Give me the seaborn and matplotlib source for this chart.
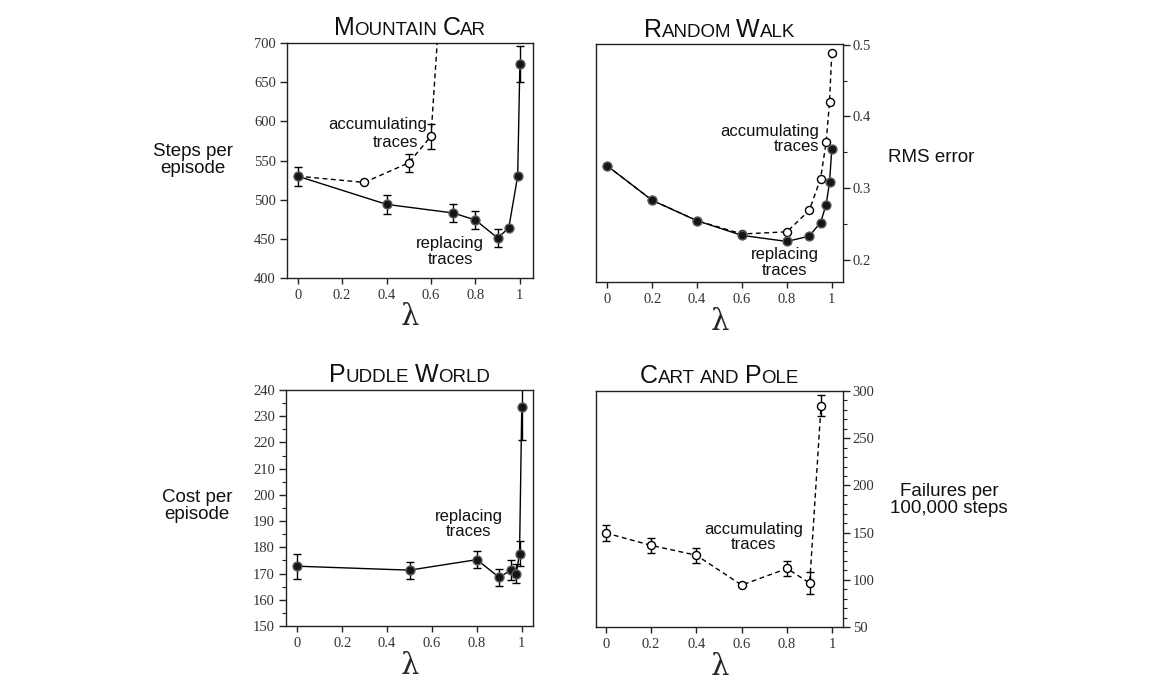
import matplotlib
matplotlib.use("Agg")
import matplotlib.pyplot as plt
import numpy as np
import seaborn as sns
from matplotlib.ticker import MultipleLocator

nan = np.nan

# Mountain Car
mc_rep_lam = [0, 0.4, 0.7, 0.8, 0.9, 0.95, 0.99, 1.0]
mc_rep_steps = [530, 494, 483, 474, 451, 464, 530, 673]
mc_rep_err = [12, 12, 11, 11, 11, nan, nan, 23]
mc_acc_lam = [0, 0.3, 0.5, 0.6, 0.7]
mc_acc_steps = [530, 522, 547, 581, 1010]
mc_acc_err = [nan, nan, 11.5, 16, nan]

# Random Walk
rw_lam = [0, 0.2, 0.4, 0.6, 0.8, 0.9, 0.95, 0.975, 0.99, 1.0]
rw_rep_rms = [0.331, 0.283, 0.2545, 0.234, 0.2256, 0.233, 0.252, 0.277, 0.308, 0.354]
rw_acc_rms = [0.331, 0.283, 0.2545, 0.236, 0.239, 0.269, 0.313, 0.364, 0.420, 0.489]

# Puddle World
pw_rep_lam = [0, 0.5, 0.8, 0.9, 0.95, 0.975, 0.99, 1.0]
pw_rep_cost = [172.8, 171.3, 175.3, 168.5, 171.3, 170.0, 177.5, 233.5]
pw_rep_err = [4.7, 3.2, 3.3, 3.2, 3.8, 3.6, 4.8, 12.4]

# Cart and Pole
cp_acc_lam = [0, 0.2, 0.4, 0.6, 0.8, 0.9, 0.95]
cp_acc_fail = [149.6, 136.5, 126, 94.4, 112, 96.5, 284.5]
cp_acc_err = [8, 8, 8, nan, 8.3, 11.3, 11]

x_ticks = [0, 0.2, 0.4, 0.6, 0.8, 1.0]
x_tick_labels = ["0", "0.2", "0.4", "0.6", "0.8", "1"]

SANS = ["Liberation Sans", "DejaVu Sans"]
SERIF = ["Liberation Serif", "DejaVu Serif"]


def draw_curve(ax, lam, vals, err=None, filled=True):
    lam = np.asarray(lam, float)
    vals = np.asarray(vals, float)
    if err is not None:
        err = np.asarray(err, float)
        ok = ~np.isnan(err)
        ax.errorbar(lam[ok], vals[ok], yerr=err[ok], fmt="none", ecolor="black",
                    elinewidth=1.0, capsize=3.2, capthick=1.0, zorder=2)
    if filled:
        sns.lineplot(x=lam, y=vals, ax=ax, color="black", linewidth=1.0,
                     marker="o", markersize=6.4, markerfacecolor="#151515",
                     markeredgecolor="#5a5a5a", markeredgewidth=1.0,
                     errorbar=None, zorder=3)
    else:
        sns.lineplot(x=lam, y=vals, ax=ax, color="black", linewidth=1.0,
                     marker="o", markersize=5.8, markerfacecolor="white",
                     markeredgecolor="black", markeredgewidth=1.0,
                     errorbar=None, zorder=3)
        ax.lines[-1].set_dashes([3.5, 2.5])


def style_axes(ax, xlim, ylim, yticks, minor=None, right=False):
    ax.set_xlim(*xlim)
    ax.set_ylim(*ylim)
    ax.set_xticks(x_ticks)
    ax.set_xticklabels(x_tick_labels)
    ax.set_yticks(yticks)
    ax.set_yticklabels([f"{v:g}" for v in yticks])
    if minor:
        ax.yaxis.set_minor_locator(MultipleLocator(minor))
    for side in ["top", "bottom", "left", "right"]:
        ax.spines[side].set_visible(True)
        ax.spines[side].set_color("#222222")
        ax.spines[side].set_linewidth(1.0)
    ax.tick_params(axis="x", which="major", direction="out", length=4,
                   width=1, color="#222222", pad=4, labelsize=10.5)
    ax.tick_params(axis="y", which="major", direction="out", length=5,
                   width=1, color="#222222", labelsize=10.5,
                   pad=2 if right else 3)
    ax.tick_params(axis="y", which="minor", direction="out", length=3,
                   width=0.8, color="#222222")
    if right:
        ax.yaxis.tick_right()
    for lab in ax.get_xticklabels() + ax.get_yticklabels():
        lab.set_fontfamily(SERIF)
        lab.set_color("#333333")
    ax.grid(False)
    ax.set_ylabel("")
    ax.set_xlabel("λ", fontsize=21, family=["DejaVu Serif"])
    ax.xaxis.label.set_va("center")
    ax.xaxis.set_label_coords(0.5, -0.168)


def smallcaps_title(ax, title, big=18, small=13.5, gap_px=7.5):
    # capitals stay large, lower case letters become small capitals
    fig = ax.figure
    renderer = fig.canvas.get_renderer()
    pieces = []  # (text, size, space_before)
    for word_i, word in enumerate(title.split(" ")):
        run, run_big, first = "", None, True
        for ch in word:
            is_big = ch.isupper()
            if run and is_big != run_big:
                pieces.append((run.upper(), big if run_big else small,
                               first and word_i > 0))
                run, first = "", False
            run += ch
            run_big = is_big
        pieces.append((run.upper(), big if run_big else small,
                       first and word_i > 0))
    bb = ax.get_window_extent(renderer)
    y = 1 + gap_px / bb.height
    space = 0.278 * small * fig.dpi / 72
    texts, widths = [], []
    for s, fs, _ in pieces:
        t = ax.text(0, y, s, fontsize=fs, family=SANS, ha="left", va="baseline",
                    transform=ax.transAxes, color="#111111")
        texts.append(t)
        widths.append(t.get_window_extent(renderer).width)
    total = sum(widths) + space * sum(1 for p in pieces if p[2])
    x = bb.width / 2 - total / 2
    for t, w, p in zip(texts, widths, pieces):
        if p[2]:
            x += space
        t.set_x(x / bb.width)
        x += w


sns.set_theme(style="ticks")
plt.rcParams["font.family"] = SERIF

fig = plt.figure(figsize=(11.68, 6.8), dpi=100)
ax_mc = fig.add_axes([287 / 1168, 1 - 278 / 680, 246 / 1168, 235 / 680])
ax_rw = fig.add_axes([596 / 1168, 1 - 282 / 680, 247 / 1168, 238 / 680])
ax_pw = fig.add_axes([286 / 1168, 1 - 626 / 680, 247 / 1168, 236 / 680])
ax_cp = fig.add_axes([596 / 1168, 1 - 627 / 680, 247 / 1168, 236 / 680])

# Mountain Car
draw_curve(ax_mc, mc_acc_lam, mc_acc_steps, mc_acc_err, filled=False)
draw_curve(ax_mc, mc_rep_lam, mc_rep_steps, mc_rep_err, filled=True)
style_axes(ax_mc, (-0.048, 1.059), (400, 700), [400, 450, 500, 550, 600, 650, 700])

# Random Walk
draw_curve(ax_rw, rw_lam, rw_acc_rms, filled=False)
draw_curve(ax_rw, rw_lam, rw_rep_rms, filled=True)
style_axes(ax_rw, (-0.05, 1.05), (0.169, 0.501), [0.2, 0.3, 0.4, 0.5],
           minor=0.05, right=True)

# Puddle World
draw_curve(ax_pw, pw_rep_lam, pw_rep_cost, pw_rep_err, filled=True)
style_axes(ax_pw, (-0.05, 1.05), (150, 240), list(range(150, 241, 10)), minor=5)

# Cart and Pole
draw_curve(ax_cp, cp_acc_lam, cp_acc_fail, cp_acc_err, filled=False)
style_axes(ax_cp, (-0.043, 1.047), (50, 300), [50, 100, 150, 200, 250, 300],
           minor=10, right=True)

# y-axis labels, horizontal
lab_kw = dict(fontsize=13.5, family=SANS, color="#111111", ha="center",
              va="center", linespacing=1.0)
ax_mc.text(-0.382, 0.502, "Steps per\nepisode", transform=ax_mc.transAxes, **lab_kw)
ax_rw.text(1.356, 0.525, "RMS error", transform=ax_rw.transAxes, **lab_kw)
ax_pw.text(-0.360, 0.508, "Cost per\nepisode", transform=ax_pw.transAxes, **lab_kw)
ax_cp.text(1.429, 0.538, "Failures per\n100,000 steps", transform=ax_cp.transAxes, **lab_kw)

# curve annotations
ann_kw = dict(fontsize=12, family=SANS, color="#111111", va="center", linespacing=1.05)
ax_mc.text(0.569, 0.652, "accumulating", transform=ax_mc.transAxes, ha="right", **ann_kw)
ax_mc.text(0.532, 0.575, "traces", transform=ax_mc.transAxes, ha="right", **ann_kw)
ax_mc.text(0.663, 0.113, "replacing\ntraces", transform=ax_mc.transAxes,
           ha="center", ma="center", **ann_kw)
ax_rw.text(0.903, 0.601, "accumulating\ntraces", transform=ax_rw.transAxes,
           ha="right", ma="right", **ann_kw)
ax_rw.text(0.765, 0.082, "replacing\ntraces", transform=ax_rw.transAxes,
           ha="center", ma="center", **ann_kw)
ax_pw.text(0.739, 0.432, "replacing\ntraces", transform=ax_pw.transAxes,
           ha="center", ma="center", **ann_kw)
ax_cp.text(0.638, 0.381, "accumulating\ntraces", transform=ax_cp.transAxes,
           ha="center", ma="center", **ann_kw)

smallcaps_title(ax_mc, "Mountain Car", gap_px=8)
smallcaps_title(ax_rw, "Random Walk", gap_px=7.5)
smallcaps_title(ax_pw, "Puddle World", gap_px=7.5)
smallcaps_title(ax_cp, "Cart and Pole", gap_px=8)

fig.savefig("out.png", dpi=100, facecolor="white")
